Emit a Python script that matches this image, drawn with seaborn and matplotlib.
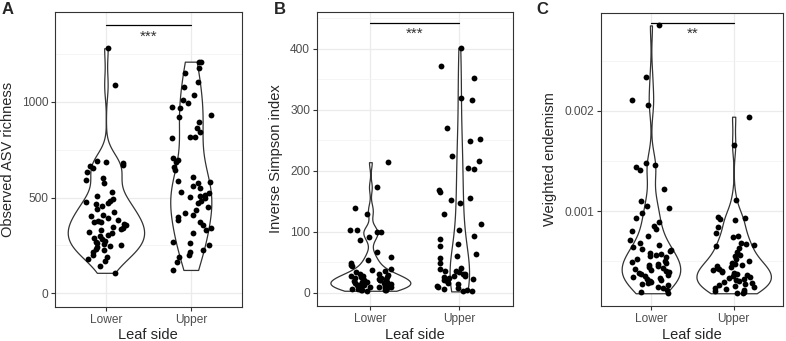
import numpy as np
import pandas as pd
import matplotlib
matplotlib.use("Agg")
import matplotlib.pyplot as plt
import seaborn as sns
from matplotlib.ticker import FixedLocator

sns.set_style("white")
plt.rcParams['font.family'] = ['Liberation Sans', 'DejaVu Sans']

# データ
sides = ["Lower", "Upper"]

richness_lower = [1280, 1088, 693, 688, 680, 672, 665, 655, 635, 600, 590, 578, 530, 510, 495,
                  480, 475, 470, 465, 455, 440, 425, 410, 405, 395, 385, 380, 375, 370, 362,
                  355, 348, 340, 335, 330, 322, 315, 305, 300, 290, 282, 275, 270, 262, 258,
                  250, 245, 240, 232, 225, 215, 200, 190, 180, 168, 140, 107]
richness_upper = [1210, 1210, 1175, 1153, 1106, 1080, 1036, 1010, 993, 975, 970, 932, 923, 897,
                  862, 845, 818, 815, 812, 705, 697, 688, 662, 644, 610, 588, 583, 578, 560,
                  548, 531, 522, 514, 508, 505, 496, 480, 470, 453, 435, 418, 409, 400, 383,
                  374, 357, 339, 331, 313, 270, 261, 252, 226, 217, 200, 191, 165, 122]

simpson_lower = [214, 173, 139, 129, 103, 102, 100, 99, 92, 87, 66, 58, 54, 49, 46, 43, 39, 37,
                 35, 33, 31, 30, 29, 28, 27, 26, 25, 24, 24, 23, 22, 21, 20, 20, 19, 18, 18, 17,
                 16, 15, 15, 14, 13, 12, 12, 11, 10, 10, 9, 8, 8, 7, 6, 6, 5, 5, 4, 4, 3]
simpson_upper = [402, 372, 353, 319, 316, 270, 252, 249, 224, 216, 205, 203, 168, 165, 155, 152,
                 147, 129, 113, 103, 93, 88, 79, 76, 64, 60, 57, 49, 41, 38, 36, 35, 33, 31, 30,
                 28, 27, 25, 24, 22, 20, 19, 16, 14, 11, 9, 8, 6, 5, 3, 2]

endemism_lower = [2.85, 2.34, 2.11, 2.06, 1.48, 1.46, 1.44, 1.41, 1.22, 1.10, 1.05, 1.03, 0.98,
                  0.93, 0.89, 0.85, 0.82, 0.80, 0.75, 0.71, 0.68, 0.66, 0.64, 0.62, 0.61, 0.60,
                  0.58, 0.57, 0.56, 0.55, 0.54, 0.52, 0.50, 0.49, 0.48, 0.47, 0.46, 0.45, 0.44,
                  0.43, 0.42, 0.41, 0.40, 0.39, 0.38, 0.37, 0.36, 0.35, 0.34, 0.33, 0.32, 0.31,
                  0.30, 0.29, 0.28, 0.27, 0.26, 0.24, 0.23, 0.21, 0.19, 0.18]
endemism_upper = [1.94, 1.66, 1.11, 0.94, 0.93, 0.92, 0.91, 0.84, 0.78, 0.75, 0.74, 0.68, 0.67,
                  0.66, 0.65, 0.63, 0.59, 0.56, 0.55, 0.52, 0.50, 0.48, 0.47, 0.46, 0.45, 0.44,
                  0.43, 0.42, 0.41, 0.40, 0.39, 0.38, 0.37, 0.36, 0.35, 0.34, 0.33, 0.32, 0.31,
                  0.30, 0.29, 0.28, 0.27, 0.26, 0.25, 0.24, 0.23, 0.22, 0.21, 0.20, 0.19, 0.18,
                  0.18]
endemism_lower = [v / 1000 for v in endemism_lower]
endemism_upper = [v / 1000 for v in endemism_upper]

panel_tags = ["A", "B", "C"]
y_labels = ["Observed ASV richness", "Inverse Simpson index", "Weighted endemism"]
signif = ["***", "***", "**"]
signif_y = [1400, 443, 0.002877]
y_limits = [(-70, 1471), (-22, 461), (0.0000529, 0.002977)]
major_ticks = [[0, 500, 1000], [0, 100, 200, 300, 400], [0.001, 0.002]]
minor_ticks = [[250, 750, 1250], [50, 150, 250, 350, 450], [0.0005, 0.0015, 0.0025]]
tick_labels = [["0", "500", "1000"], ["0", "100", "200", "300", "400"], ["0.001", "0.002"]]

panels = [(richness_lower, richness_upper), (simpson_lower, simpson_upper),
          (endemism_lower, endemism_upper)]

# 軸の位置 (ピクセル)
W, H = 786, 341
boxes = [(55, 11.7, 241.7, 306.7), (317, 11.7, 512.7, 306), (601.3, 12.7, 783.3, 306)]
tag_x = [2, 274, 536]
ylabel_x = [8, 276, 550]


# R の bw.nrd0 と同じ帯域幅
def nrd0(x):
    x = np.asarray(x, float)
    sd = x.std(ddof=1)
    iqr = np.subtract(*np.percentile(x, [75, 25]))
    return 0.9 * min(sd, iqr / 1.34) * len(x) ** -0.2


def max_density(x, h):
    x = np.asarray(x, float)
    grid = np.linspace(x.min(), x.max(), 512)
    d = np.exp(-0.5 * ((grid[:, None] - x[None, :]) / h) ** 2).sum(axis=1)
    return (d / (len(x) * h * np.sqrt(2 * np.pi))).max()


np.random.seed(3)
fig = plt.figure(figsize=(7.86, 3.41), dpi=100)

for i, groups in enumerate(panels):
    x0, y0, x1, y1 = boxes[i]
    ax = fig.add_axes([x0 / W, 1 - y1 / H, (x1 - x0) / W, (y1 - y0) / H])

    # ggplot の scale = "area" に合わせて幅を決める
    bws = [nrd0(g) for g in groups]
    peaks = [max_density(g, h) for g, h in zip(groups, bws)]
    for side, g, h, pk in zip(sides, groups, bws, peaks):
        sns.violinplot(x=[side] * len(g), y=g, order=sides, ax=ax, color="white",
                       linecolor="#333333", linewidth=0.9, inner=None, cut=0,
                       bw_method=h / np.std(g, ddof=1), width=0.9 * pk / max(peaks),
                       zorder=2)

    df = pd.DataFrame({
        "side": [sides[0]] * len(groups[0]) + [sides[1]] * len(groups[1]),
        "value": list(groups[0]) + list(groups[1]),
    })
    sns.stripplot(data=df, x="side", y="value", order=sides, ax=ax, color="black",
                  size=4.2, jitter=0.25, zorder=3)

    ax.set_xlim(-0.6, 1.6)
    ax.set_ylim(*y_limits[i])
    ax.yaxis.set_major_locator(FixedLocator(major_ticks[i]))
    ax.set_yticklabels(tick_labels[i])
    ax.yaxis.set_minor_locator(FixedLocator(minor_ticks[i]))
    ax.grid(True, which="major", color="#EBEBEB", linewidth=0.9, zorder=0)
    ax.grid(True, which="minor", axis="y", color="#F2F2F2", linewidth=0.5, zorder=0)
    ax.set_axisbelow(True)
    for sp in ax.spines.values():
        sp.set_visible(True)
        sp.set_color("#333333")
        sp.set_linewidth(0.8)
    ax.tick_params(axis="both", which="major", length=3, width=0.8, color="#333333",
                   labelcolor="#4D4D4D", labelsize=8.6, pad=2, left=True, bottom=True)
    ax.tick_params(axis="y", which="minor", length=0)
    ax.set_xlabel("Leaf side", fontsize=10.5, labelpad=2)
    ax.set_ylabel("")
    fig.text(ylabel_x[i] / W, 1 - ((y0 + y1) / 2) / H, y_labels[i], rotation=90,
             fontsize=10.5, ha="center", va="center")

    # 有意差の表示
    ax.plot([0, 1], [signif_y[i], signif_y[i]], color="black", linewidth=0.9, zorder=4)
    ax.annotate(signif[i], (0.5, signif_y[i]), xytext=(0, -3), textcoords="offset points",
                ha="center", va="top", fontsize=11, color="#333333")

    fig.text(tag_x[i] / W, 1 - 2 / H, panel_tags[i], fontsize=12, fontweight="bold",
             ha="left", va="top")

fig.savefig("out.png", dpi=100)
